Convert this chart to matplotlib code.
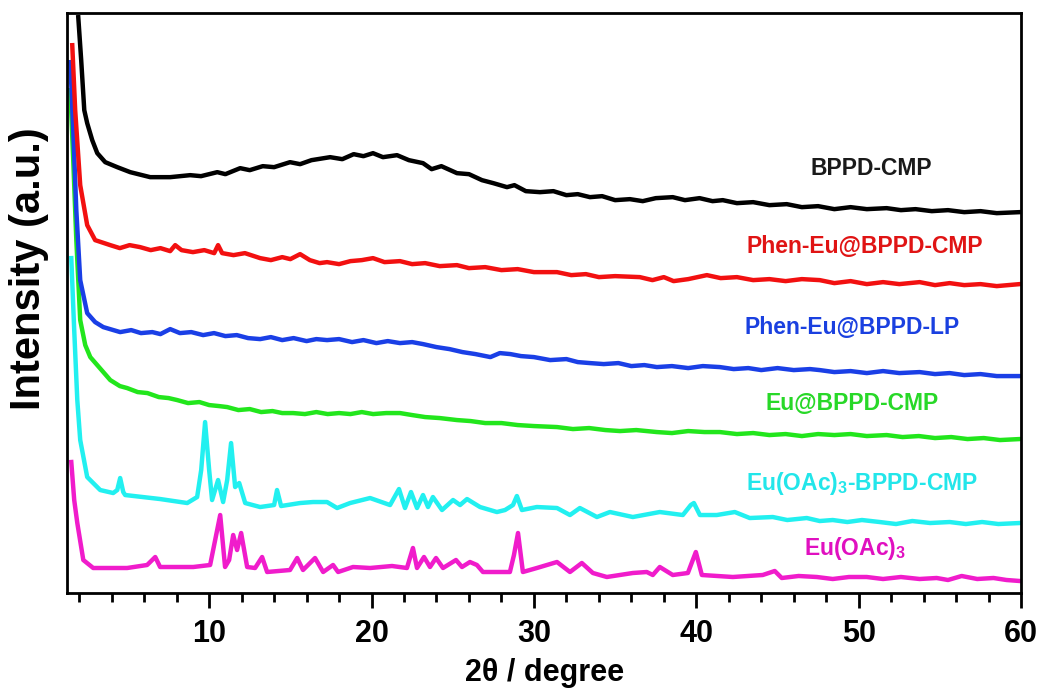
import matplotlib
matplotlib.use('Agg')

import matplotlib.pyplot as plt
from matplotlib.ticker import MultipleLocator

plt.rcParams['font.family'] = ['Liberation Sans', 'DejaVu Sans']
plt.rcParams['font.weight'] = 'bold'
plt.rcParams['mathtext.fontset'] = 'custom'
plt.rcParams['mathtext.bf'] = 'Liberation Sans:bold'
plt.rcParams['mathtext.rm'] = 'Liberation Sans:bold'

# XRD patterns, stacked with offsets (arbitrary intensity units)
bppd_x = [1.94, 2.12, 2.31, 2.49, 2.80, 3.11, 3.6, 4.34, 5.14, 6.37, 7.6, 8.83,
          9.5, 10.5, 11.0, 11.91, 12.5, 13.3, 14.0, 14.98, 15.6, 16.3, 17.45,
          18.2, 18.9, 19.5, 20.09, 20.7, 21.57, 22.3, 23.17, 23.7, 24.3, 25.26,
          26.0, 26.8, 27.5, 28.34, 28.8, 29.5, 30.37, 31.2, 32.0, 32.7, 33.45,
          34.2, 35.0, 35.91, 36.7, 37.5, 38.55, 39.3, 40.2, 41.0, 41.63, 42.5,
          43.5, 44.5, 45.57, 46.5, 47.5, 48.5, 49.5, 50.5, 51.72, 52.6, 53.5,
          54.5, 55.5, 56.5, 57.5, 58.5, 59.91]
bppd_y = [583, 540, 490, 477, 460, 447, 438, 433, 428, 423, 423, 425,
          424, 428, 426, 432, 430, 434, 433, 438, 436, 440, 443,
          441, 446, 444, 447, 443, 445, 440, 437, 431, 434, 427,
          426, 420, 417, 413, 415, 409, 408, 409, 405, 406, 403,
          404, 400, 401, 399, 402, 403, 400, 402, 399, 400, 397,
          398, 395, 396, 393, 394, 391, 393, 391, 392, 390, 391,
          389, 390, 388, 389, 387, 388]

phen_cmp_x = [1.57, 1.75, 2.06, 2.49, 2.98, 3.91, 4.5, 5.1, 5.75, 6.4, 7.0, 7.6,
              7.91, 8.3, 9.0, 9.7, 10.31, 10.55, 10.8, 11.5, 12.2, 13.14, 13.8,
              14.5, 15.0, 15.6, 16.2, 16.8, 17.26, 18.0, 18.7, 19.4, 20.09, 20.8,
              21.75, 22.5, 23.3, 24.2, 25.26, 26.0, 27.0, 28.0, 29.0, 30.0, 31.42,
              32.3, 33.2, 34.0, 35.0, 36.52, 37.3, 38.0, 38.6, 39.5, 40.65, 41.5,
              42.5, 43.5, 44.5, 45.5, 46.5, 47.6, 48.5, 49.5, 50.5, 51.5, 52.5,
              53.75, 54.7, 55.6, 56.5, 57.5, 58.5, 59.91]
phen_cmp_y = [555, 490, 415, 375, 360, 355, 352, 355, 353, 350, 352, 349,
              355, 350, 348, 350, 347, 355, 347, 345, 347, 342, 340,
              343, 341, 346, 340, 337, 338, 336, 339, 340, 342, 338,
              339, 336, 337, 334, 335, 332, 333, 330, 331, 328, 328,
              325, 326, 323, 324, 323, 320, 323, 319, 321, 325, 322,
              323, 320, 321, 319, 321, 320, 317, 319, 316, 318, 316,
              318, 315, 317, 315, 316, 314, 316]

phen_lp_x = [1.45, 1.63, 1.82, 2.06, 2.49, 2.98, 3.48, 4.52, 5.2, 5.8, 6.5, 7.0,
             7.6, 8.2, 8.9, 9.63, 10.3, 11.0, 11.7, 12.4, 13.14, 13.8, 14.5,
             15.2, 16.0, 16.6, 17.26, 18.0, 18.8, 19.5, 20.3, 21.0, 21.75, 22.5,
             23.17, 24.0, 24.8, 25.6, 26.4, 27.32, 27.9, 28.55, 29.2, 30.0, 31.0,
             32.0, 32.7, 33.45, 34.3, 35.2, 36.0, 36.8, 37.57, 38.5, 39.5, 40.4,
             41.45, 42.3, 43.2, 44.0, 45.0, 46.0, 47.0, 47.6, 48.5, 49.5, 50.5,
             51.5, 52.5, 53.75, 54.7, 55.6, 56.5, 57.5, 58.5, 59.91]
phen_lp_y = [538, 470, 390, 320, 287, 278, 273, 268, 270, 267, 268, 266,
             271, 267, 268, 265, 267, 264, 265, 262, 261, 263, 260,
             262, 259, 261, 260, 261, 258, 260, 257, 259, 257, 258,
             256, 253, 251, 248, 246, 243, 247, 246, 244, 243, 240,
             241, 238, 237, 236, 237, 234, 235, 233, 234, 232, 234,
             233, 231, 232, 230, 232, 230, 231, 230, 228, 229, 227,
             229, 227, 228, 226, 227, 225, 226, 224, 224]

eu_cmp_x = [1.45, 1.63, 1.82, 2.06, 2.37, 2.68, 3.91, 4.5, 4.95, 5.6, 6.2, 6.9,
            7.5, 8.03, 8.7, 9.4, 10.0, 10.6, 11.11, 11.8, 12.5, 13.2, 13.9, 14.5,
            15.17, 15.9, 16.6, 17.3, 18.0, 18.7, 19.4, 20.1, 20.9, 21.75, 22.5,
            23.3, 24.2, 25.26, 26.1, 27.0, 28.0, 29.0, 30.0, 31.42, 32.4, 33.4,
            34.4, 35.3, 36.3, 37.57, 38.5, 39.5, 40.5, 41.45, 42.5, 43.5, 44.5,
            45.5, 46.5, 47.5, 48.5, 49.5, 50.5, 51.72, 52.7, 53.7, 54.7, 55.7,
            56.7, 57.7, 58.7, 59.91]
eu_cmp_y = [510, 440, 360, 280, 255, 243, 220, 214, 212, 208, 207, 203,
            202, 200, 197, 198, 195, 194, 193, 190, 191, 188, 189, 187,
            187, 186, 188, 186, 187, 186, 188, 186, 187, 187, 185,
            183, 182, 180, 179, 177, 177, 175, 174, 173, 171, 172,
            170, 169, 170, 168, 167, 169, 168, 168, 166, 167, 165,
            166, 164, 166, 165, 166, 164, 165, 163, 164, 162, 163,
            161, 162, 160, 161]

euoac_cmp_x = [1.51, 1.69, 1.88, 2.06, 2.49, 3.29, 4.09, 4.34, 4.52, 4.71, 4.83,
               6.98, 8.65, 9.26, 9.51, 9.75, 10.0, 10.18, 10.55, 10.86, 11.11,
               11.35, 11.60, 11.85, 12.22, 13.14, 14.0, 14.18, 14.43, 15.6, 16.4,
               17.26, 17.88, 18.68, 19.91, 21.14, 21.69, 22.06, 22.43, 22.8, 23.17,
               23.48, 23.78, 24.34, 25.02, 25.45, 25.88, 26.68, 27.72, 28.22, 28.71,
               28.95, 29.26, 30.18, 31.42, 32.22, 32.83, 33.88, 34.68, 36.09, 37.75,
               39.17, 39.66, 39.85, 40.22, 41.26, 42.37, 43.29, 44.71, 45.6, 46.8,
               47.6, 48.4, 49.3, 50.2, 51.29, 52.3, 53.3, 54.4, 55.6, 56.6, 57.6,
               58.6, 59.91]
euoac_cmp_y = [342, 270, 200, 160, 123, 110, 107, 110, 122, 108, 105,
               101, 97, 103, 130, 178, 130, 100, 120, 98, 120,
               157, 113, 117, 97, 93, 95, 110, 94, 97, 98,
               98, 92, 97, 102, 95, 111, 92, 108, 92, 105,
               93, 103, 90, 100, 95, 101, 93, 88, 90, 95,
               104, 90, 93, 92, 85, 92, 83, 88, 83, 88,
               85, 95, 97, 85, 85, 88, 82, 83, 80, 82,
               79, 80, 78, 80, 78, 76, 79, 77, 78, 76, 78,
               76, 77]

euoac_x = [1.51, 1.69, 1.88, 2.25, 2.86, 4.95, 6.18, 6.68, 6.98, 9.02, 10.06,
           10.37, 10.68, 10.98, 11.23, 11.48, 11.72, 11.97, 12.34, 12.83, 13.26,
           13.57, 14.98, 15.42, 15.78, 16.52, 17.02, 17.63, 17.94, 18.86, 19.91,
           21.26, 22.18, 22.55, 22.8, 23.23, 23.6, 23.97, 24.4, 25.2, 25.57,
           26.06, 26.49, 26.86, 28.52, 28.77, 29.02, 29.32, 30.18, 31.42, 32.22,
           32.95, 33.63, 34.49, 36.09, 36.95, 37.32, 37.75, 38.55, 39.48, 39.97,
           40.34, 42.25, 44.09, 44.83, 45.26, 46.3, 47.42, 48.4, 49.4, 50.49,
           51.5, 52.6, 53.75, 54.8, 55.5, 56.34, 57.3, 58.3, 59.1, 59.91]
euoac_y = [138, 100, 77, 40, 32, 32, 35, 43, 33, 33, 35,
           60, 85, 33, 40, 65, 50, 67, 33, 32, 43,
           28, 30, 42, 30, 42, 28, 35, 28, 33, 32,
           34, 32, 52, 32, 43, 33, 42, 32, 40, 33,
           38, 35, 28, 28, 45, 67, 28, 32, 38, 28,
           37, 27, 23, 27, 28, 25, 33, 25, 27, 48,
           25, 23, 25, 29, 22, 24, 23, 21, 23, 23,
           21, 23, 21, 22, 20, 24, 21, 22, 20, 19]

series = [
    (euoac_x, euoac_y, '#f01ccb', r'Eu(OAc)$_{\mathbf{3}}$', 49.75, 52, '#e010c0'),
    (euoac_cmp_x, euoac_cmp_y, '#22f0f0', r'Eu(OAc)$_{\mathbf{3}}$-BPPD-CMP', 50.2, 117, '#22e6ea'),
    (eu_cmp_x, eu_cmp_y, '#22e61c', 'Eu@BPPD-CMP', 49.6, 197, '#28d828'),
    (phen_lp_x, phen_lp_y, '#1a3fe6', 'Phen-Eu@BPPD-LP', 49.6, 273, '#1a40e0'),
    (phen_cmp_x, phen_cmp_y, '#f21010', 'Phen-Eu@BPPD-CMP', 50.4, 354, '#e01414'),
    (bppd_x, bppd_y, '#000000', 'BPPD-CMP', 50.8, 432, '#1a1a1a'),
]

fig = plt.figure(figsize=(10.43, 6.96), dpi=100)
ax = fig.add_axes([0.0643, 0.148, 0.9147, 0.833])

for (x, y, color, name, tx, ty, tcolor) in series:
    ax.plot(x, y, color=color, lw=3.2, solid_joinstyle='round')
    ax.text(tx, ty, name, color=tcolor, fontsize=16.5, fontweight='bold',
            ha='center', va='center')

ax.set_xlim(1.25, 60)
ax.set_ylim(7, 587)

ax.xaxis.set_major_locator(MultipleLocator(10))
ax.xaxis.set_minor_locator(MultipleLocator(2))
ax.set_yticks([])
ax.tick_params(axis='x', which='major', direction='out', length=11, width=2,
               labelsize=22, pad=8)
ax.tick_params(axis='x', which='minor', direction='out', length=6.5, width=2)
for label in ax.get_xticklabels():
    label.set_fontweight('bold')

for spine in ax.spines.values():
    spine.set_linewidth(2)

ax.set_xlabel('2θ / degree', fontsize=22, fontweight='bold', labelpad=6)
ax.set_ylabel('Intensity (a.u.)', fontsize=30, fontweight='bold')
ax.yaxis.set_label_coords(-0.019, 0.56)

fig.savefig('out.png', dpi=100)
